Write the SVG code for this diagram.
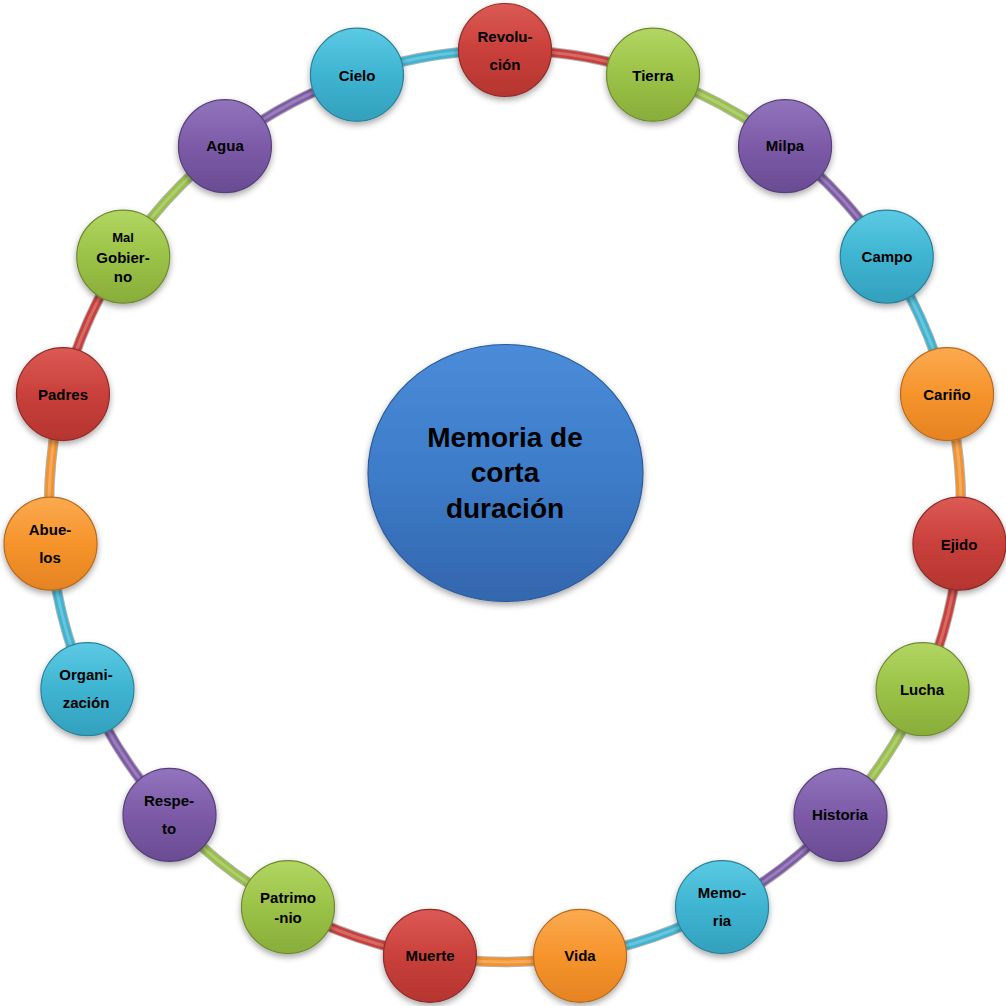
<svg xmlns="http://www.w3.org/2000/svg" width="1006" height="1006" viewBox="0 0 1006 1006">
<style>
.t{font-family:"Liberation Sans",Arial,sans-serif;font-weight:bold;font-size:15px;fill:#000;text-anchor:middle}
.ts{font-size:13px}
.tc{font-family:"Liberation Sans",Arial,sans-serif;font-weight:bold;font-size:28px;fill:#000;text-anchor:middle}
.n{filter:url(#sh);stroke-width:1.2}
.a{fill:none;stroke-width:8.5;stroke-linecap:butt}
.e{fill:none;stroke-width:10.5;stroke:#000;stroke-opacity:0.3}
.h{fill:none;stroke-width:3;stroke-opacity:0.22;stroke:#fff}
.r{fill:url(#gR);stroke:#8e2c28}
.g{fill:url(#gG);stroke:#6f8a30}
.p{fill:url(#gP);stroke:#57407a}
.b{fill:url(#gB);stroke:#2a8099}
.o{fill:url(#gO);stroke:#b86a1c}
.ar{stroke:#c9403c}.ag{stroke:#99c04a}.ap{stroke:#7d5ba6}.ab{stroke:#3fb4d2}.ao{stroke:#f29230}
</style>
<defs>
<filter id="sh" x="-20%" y="-20%" width="140%" height="150%">
<feDropShadow dx="0" dy="3" stdDeviation="3" flood-color="#000" flood-opacity="0.35"/>
</filter>
<linearGradient id="gR" x1="0" y1="0" x2="0" y2="1"><stop offset="0" stop-color="#dc5a55"/><stop offset="0.5" stop-color="#c9403b"/><stop offset="1" stop-color="#b53530"/></linearGradient>
<linearGradient id="gG" x1="0" y1="0" x2="0" y2="1"><stop offset="0" stop-color="#b2d662"/><stop offset="0.5" stop-color="#9bc247"/><stop offset="1" stop-color="#88ad3a"/></linearGradient>
<linearGradient id="gP" x1="0" y1="0" x2="0" y2="1"><stop offset="0" stop-color="#9274bd"/><stop offset="0.5" stop-color="#7c5aa7"/><stop offset="1" stop-color="#6a4c93"/></linearGradient>
<linearGradient id="gB" x1="0" y1="0" x2="0" y2="1"><stop offset="0" stop-color="#5ccae4"/><stop offset="0.5" stop-color="#3eb4d1"/><stop offset="1" stop-color="#33a0bd"/></linearGradient>
<linearGradient id="gO" x1="0" y1="0" x2="0" y2="1"><stop offset="0" stop-color="#fbaa50"/><stop offset="0.5" stop-color="#f6942c"/><stop offset="1" stop-color="#e48322"/></linearGradient>
<linearGradient id="gC" x1="0" y1="0" x2="0" y2="1"><stop offset="0" stop-color="#4a8cd9"/><stop offset="0.5" stop-color="#3d7cc9"/><stop offset="1" stop-color="#3366ad"/></linearGradient>
</defs>
<g id="connectors">
<circle class="e" cx="505" cy="506" r="456"/>
<path class="a ar" d="M505,50 A456,456 0 0 1 653.06,74.71"/>
<path class="a ag" d="M653.06,74.71 A456,456 0 0 1 785.08,146.15"/>
<path class="a ap" d="M785.08,146.15 A456,456 0 0 1 886.75,256.59"/>
<path class="a ab" d="M886.75,256.59 A456,456 0 0 1 947.05,394.06"/>
<path class="a ao" d="M947.05,394.06 A456,456 0 0 1 959.44,543.66"/>
<path class="a ar" d="M959.44,543.66 A456,456 0 0 1 922.59,689.18"/>
<path class="a ag" d="M922.59,689.18 A456,456 0 0 1 840.49,814.84"/>
<path class="a ap" d="M840.49,814.84 A456,456 0 0 1 722.03,907.04"/>
<path class="a ab" d="M722.03,907.04 A456,456 0 0 1 580.05,955.78"/>
<path class="a ao" d="M580.05,955.78 A456,456 0 0 1 429.95,955.78"/>
<path class="a ar" d="M429.95,955.78 A456,456 0 0 1 287.97,907.04"/>
<path class="a ag" d="M287.97,907.04 A456,456 0 0 1 169.51,814.84"/>
<path class="a ap" d="M169.51,814.84 A456,456 0 0 1 87.41,689.18"/>
<path class="a ab" d="M87.41,689.18 A456,456 0 0 1 50.56,543.66"/>
<path class="a ao" d="M50.56,543.66 A456,456 0 0 1 62.95,394.06"/>
<path class="a ar" d="M62.95,394.06 A456,456 0 0 1 123.25,256.59"/>
<path class="a ag" d="M123.25,256.59 A456,456 0 0 1 224.92,146.15"/>
<path class="a ap" d="M224.92,146.15 A456,456 0 0 1 356.94,74.71"/>
<path class="a ab" d="M356.94,74.71 A456,456 0 0 1 505,50"/>
<circle class="h" cx="505" cy="506" r="456"/>
</g>
<g id="center">
<ellipse cx="505.5" cy="473" rx="137.5" ry="128.5" fill="url(#gC)" stroke="#2c5a9a" stroke-width="1.2" filter="url(#sh)"/>
<text class="tc" x="505" y="447">Memoria de</text>
<text class="tc" x="505" y="482">corta</text>
<text class="tc" x="505" y="518">duración</text>
</g>
<g id="n0"><circle class="n r" cx="505" cy="50" r="46.5"/><text class="t" x="505" y="42">Revolu-</text><text class="t" x="505" y="70">ción</text></g>
<g id="n1"><circle class="n g" cx="653.06" cy="74.71" r="46.5"/><text class="t" x="653" y="81">Tierra</text></g>
<g id="n2"><circle class="n p" cx="785.08" cy="146.15" r="46.5"/><text class="t" x="785" y="151">Milpa</text></g>
<g id="n3"><circle class="n b" cx="886.75" cy="256.59" r="46.5"/><text class="t" x="887" y="262">Campo</text></g>
<g id="n4"><circle class="n o" cx="947.05" cy="394.06" r="46.5"/><text class="t" x="947" y="400">Cariño</text></g>
<g id="n5"><circle class="n r" cx="959.44" cy="543.66" r="46.5"/><text class="t" x="959" y="550">Ejido</text></g>
<g id="n6"><circle class="n g" cx="922.59" cy="689.18" r="46.5"/><text class="t" x="922" y="695">Lucha</text></g>
<g id="n7"><circle class="n p" cx="840.49" cy="814.84" r="46.5"/><text class="t" x="840" y="820">Historia</text></g>
<g id="n8"><circle class="n b" cx="722.03" cy="907.04" r="46.5"/><text class="t" x="722" y="898">Memo-</text><text class="t" x="722" y="926">ria</text></g>
<g id="n9"><circle class="n o" cx="580.05" cy="955.78" r="46.5"/><text class="t" x="580" y="961">Vida</text></g>
<g id="n10"><circle class="n r" cx="429.95" cy="955.78" r="46.5"/><text class="t" x="430" y="961">Muerte</text></g>
<g id="n11"><circle class="n g" cx="287.97" cy="907.04" r="46.5"/><text class="t" x="288" y="903">Patrimo</text><text class="t" x="288" y="923">-nio</text></g>
<g id="n12"><circle class="n p" cx="169.51" cy="814.84" r="46.5"/><text class="t" x="169" y="806">Respe-</text><text class="t" x="169" y="834">to</text></g>
<g id="n13"><circle class="n b" cx="87.41" cy="689.18" r="46.5"/><text class="t" x="86" y="680">Organi-</text><text class="t" x="86" y="708">zación</text></g>
<g id="n14"><circle class="n o" cx="50.56" cy="543.66" r="46.5"/><text class="t" x="50" y="535">Abue-</text><text class="t" x="50" y="563">los</text></g>
<g id="n15"><circle class="n r" cx="62.95" cy="394.06" r="46.5"/><text class="t" x="63" y="400">Padres</text></g>
<g id="n16"><circle class="n g" cx="123.25" cy="256.59" r="46.5"/><text class="t ts" x="123" y="242">Mal</text><text class="t" x="123" y="263">Gobier-</text><text class="t" x="123" y="282">no</text></g>
<g id="n17"><circle class="n p" cx="224.92" cy="146.15" r="46.5"/><text class="t" x="225" y="151">Agua</text></g>
<g id="n18"><circle class="n b" cx="356.94" cy="74.71" r="46.5"/><text class="t" x="357" y="81">Cielo</text></g>
</svg>
